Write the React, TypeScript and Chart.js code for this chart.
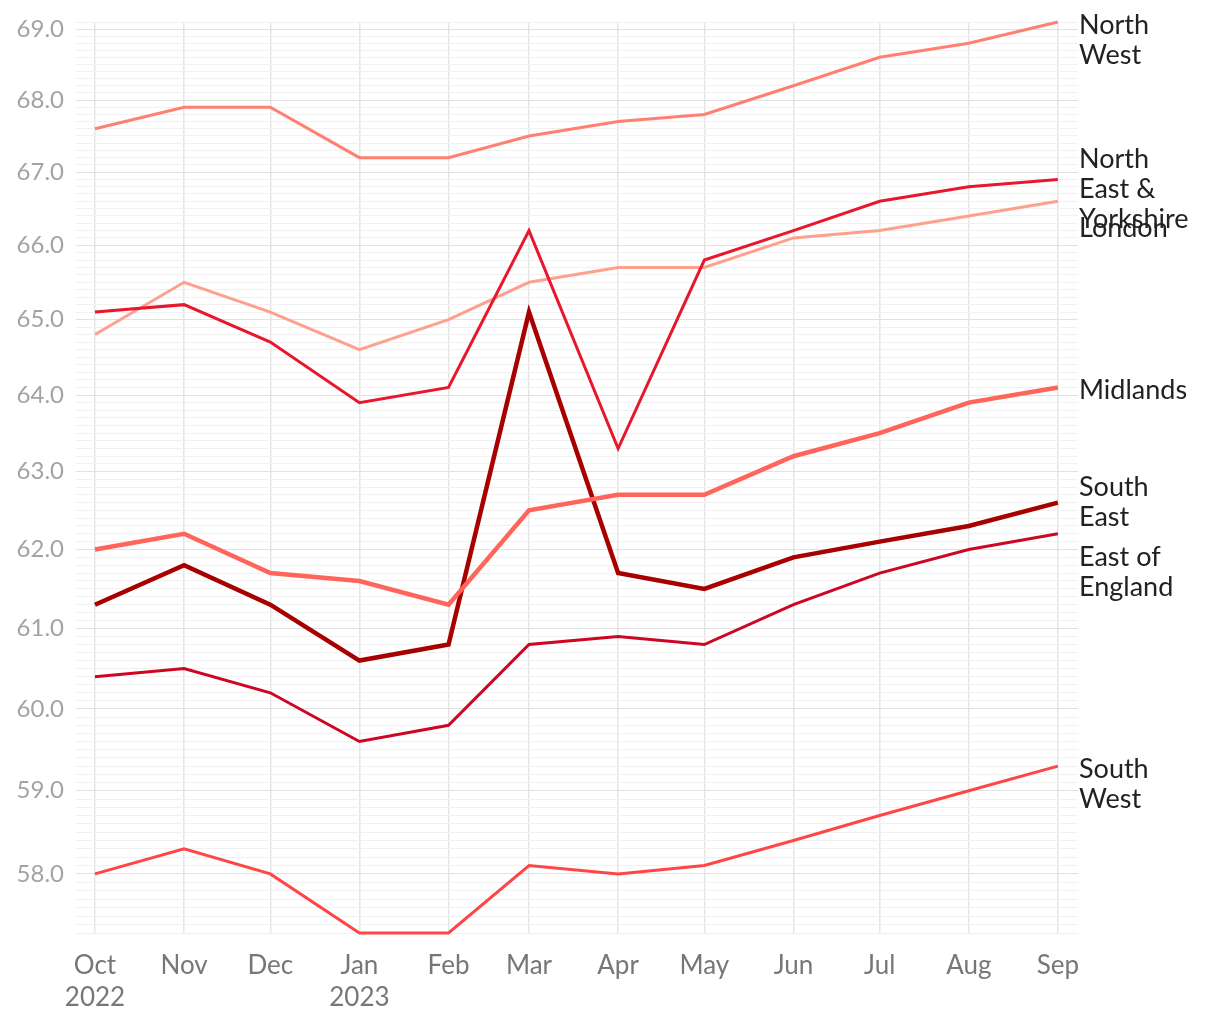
import React, { useEffect, useRef } from "react";
import { Chart, registerables } from "chart.js";

Chart.register(...registerables);

const months = [
  "2022-10-01", "2022-11-01", "2022-12-01", "2023-01-01", "2023-02-01", "2023-03-01",
  "2023-04-01", "2023-05-01", "2023-06-01", "2023-07-01", "2023-08-01", "2023-09-01",
];
const monthLabels: (string | string[])[] = [
  ["Oct", "2022"], "Nov", "Dec", ["Jan", "2023"], "Feb", "Mar", "Apr", "May", "Jun", "Jul", "Aug", "Sep",
];

const seriesNames = [
  "North\nWest",
  "North\nEast &\nYorkshire",
  "London",
  "Midlands",
  "South\nEast",
  "East of\nEngland",
  "South\nWest",
];

const northWest = [67.6, 67.9, 67.9, 67.2, 67.2, 67.5, 67.7, 67.8, 68.2, 68.6, 68.8, 69.1];
const northEastYorkshire = [65.1, 65.2, 64.7, 63.9, 64.1, 66.2, 63.3, 65.8, 66.2, 66.6, 66.8, 66.9];
const london = [64.8, 65.5, 65.1, 64.6, 65.0, 65.5, 65.7, 65.7, 66.1, 66.2, 66.4, 66.6];
const midlands = [62.0, 62.2, 61.7, 61.6, 61.3, 62.5, 62.7, 62.7, 63.2, 63.5, 63.9, 64.1];
const southEast = [61.3, 61.8, 61.3, 60.6, 60.8, 65.1, 61.7, 61.5, 61.9, 62.1, 62.3, 62.6];
const eastOfEngland = [60.4, 60.5, 60.2, 59.6, 59.8, 60.8, 60.9, 60.8, 61.3, 61.7, 62.0, 62.2];
const southWest = [58.0, 58.3, 58.0, 57.3, 57.3, 58.1, 58.0, 58.1, 58.4, 58.7, 59.0, 59.3];

const seriesValues = [northWest, northEastYorkshire, london, midlands, southEast, eastOfEngland, southWest];

const yMin = 57.3;
const yMax = 69.1;

// styling (kept apart from data)
const seriesColors = ["#ff8070", "#e8172d", "#ffa08e", "#ff655a", "#a80000", "#cc0623", "#ff4646"];
const seriesWidths = [3, 3, 3, 4.5, 4.5, 3, 3];
const labelDy = [18, 10, 27, 3, 0, 38, 18];

const FONT = "Lato, 'Open Sans', sans-serif";

const dayOf = (s: string) => (Date.parse(s) - Date.parse(months[0])) / 86400000;

const endLabels = {
  id: "endLabels",
  afterDatasetsDraw(chart: any) {
    const { ctx, chartArea } = chart;
    ctx.save();
    ctx.font = `27px ${FONT}`;
    ctx.fillStyle = "#222222";
    ctx.textAlign = "left";
    ctx.textBaseline = "middle";
    const lh = 30;
    chart.data.datasets.forEach((ds: any, i: number) => {
      const meta = chart.getDatasetMeta(i);
      const pt = meta.data[meta.data.length - 1];
      const lines = seriesNames[i].split("\n");
      const cy = pt.y + labelDy[i];
      lines.forEach((ln, k) => {
        const y = cy - ((lines.length - 1) * lh) / 2 + k * lh;
        ctx.fillText(ln, chartArea.right + 1, y);
      });
    });
    ctx.restore();
  },
};

export default function App() {
  const ref = useRef<HTMLCanvasElement | null>(null);
  useEffect(() => {
    if (!ref.current) return;
    const xs = months.map(dayOf);
    const span = xs[xs.length - 1];
    const chart = new Chart(ref.current, {
      type: "line",
      data: {
        datasets: seriesValues.map((vals, i) => ({
          label: seriesNames[i].replace(/\n/g, " "),
          data: vals.map((v, j) => ({ x: xs[j], y: v })),
          borderColor: seriesColors[i],
          backgroundColor: seriesColors[i],
          borderWidth: seriesWidths[i],
          pointRadius: 0,
          tension: 0,
          clip: 8,
        })),
      },
      options: {
        animation: false,
        responsive: true,
        maintainAspectRatio: false,
        layout: { padding: { top: 14, right: 134, left: 0, bottom: 0 } },
        plugins: { legend: { display: false }, tooltip: { enabled: false } },
        scales: {
          x: {
            type: "linear",
            min: -6.6,
            max: span + 7,
            border: { display: false },
            grid: { color: "#e6e6e6", lineWidth: 1.5, drawTicks: false },
            afterBuildTicks: (scale: any) => {
              scale.ticks = xs.map((v) => ({ value: v }));
            },
            afterFit: (scale: any) => {
              scale.height = 79;
              scale.paddingLeft = 0;
              scale.paddingRight = 0;
            },
            ticks: {
              autoSkip: false,
              maxRotation: 0,
              padding: 16,
              color: "#777777",
              font: { family: FONT, size: 26, lineHeight: 1.25 },
              callback: (_v: any, idx: number) => monthLabels[idx],
            },
          },
          y: {
            type: "logarithmic",
            min: yMin,
            max: yMax,
            border: { display: false },
            afterBuildTicks: (scale: any) => {
              const t: any[] = [];
              for (let k = Math.ceil(yMin * 10); k <= Math.floor(yMax * 10); k++) {
                t.push({ value: k / 10 });
              }
              scale.ticks = t;
            },
            afterFit: (scale: any) => {
              scale.width = 68;
              scale.paddingTop = 0;
              scale.paddingBottom = 0;
            },
            grid: {
              drawTicks: false,
              lineWidth: 1,
              color: (c: any) => {
                const v = c.tick ? c.tick.value : 0;
                return Math.abs(v - Math.round(v)) < 1e-6 ? "#e2e2e2" : "#f1f1f1";
              },
            },
            ticks: {
              autoSkip: false,
              padding: 12,
              color: "#a3a3a3",
              font: { family: FONT, size: 24 },
              callback: (v: any) => {
                const n = Number(v);
                return Math.abs(n - Math.round(n)) < 1e-6 ? n.toFixed(1) : "";
              },
            },
          },
        },
      },
      plugins: [endLabels],
    });
    return () => chart.destroy();
  }, []);
  return (
    <div style={{ width: 1204, height: 1004, position: "relative" }}>
      <canvas ref={ref} />
    </div>
  );
}
